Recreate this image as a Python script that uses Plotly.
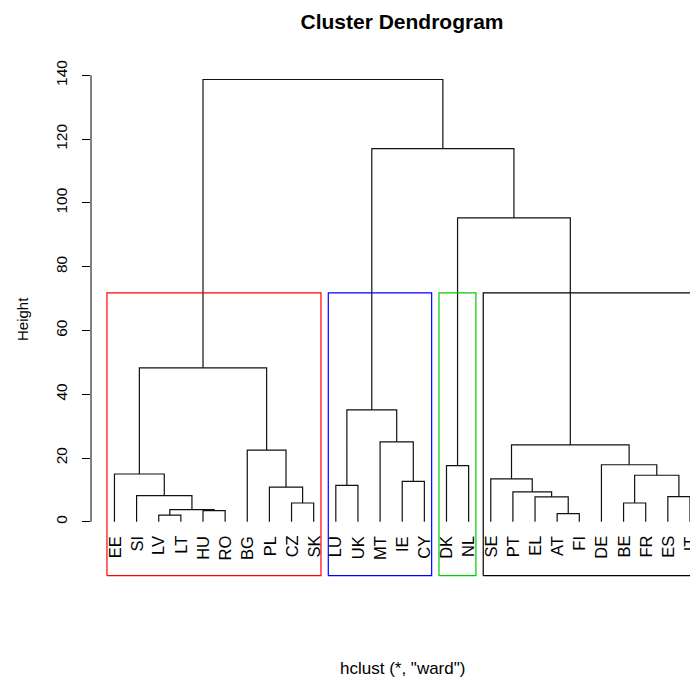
import plotly.graph_objects as go

# ---------------- data ----------------
labels = ["EE", "SI", "LV", "LT", "HU", "RO", "BG", "PL", "CZ", "SK",
          "LU", "UK", "MT", "IE", "CY", "DK", "NL",
          "SE", "PT", "EL", "AT", "FI", "DE", "BE", "FR", "ES", "IT"]

# R-style hclust merge table: negative = leaf (1-based), positive = earlier merge (1-based)
merge_left = [-3, -21, -5, 1, -9, -24, -20, -26, -2, -19, -8, -11, -14,
              -18, 6, -1, -16, -23, -7, 14, -13, 12, 16, 17, 22, 23]
merge_right = [-4, -22, -6, 3, -10, -25, 2, -27, 4, 7, 5, -12, -15,
               10, 8, 9, -17, 15, 11, 18, 13, 21, 19, 20, 24, 25]
merge_height = [2.1, 2.6, 3.5, 3.8, 5.9, 5.9, 7.8, 7.9, 8.2, 9.4, 10.9, 11.4, 12.7,
                13.5, 14.6, 15.0, 17.6, 17.9, 22.5, 24.1, 25.1, 35.1, 48.3, 95.3, 117.0, 138.7]

# rect.hclust(k = 4)
cluster_sizes = [10, 5, 2, 10]
cluster_colors = ["#FF0000", "#0000FF", "#00CD00", "#000000"]

y_ticks = [0, 20, 40, 60, 80, 100, 120, 140]

# ---------------- layout helpers ----------------
FONT = "Arial, Liberation Sans, sans-serif"
W, H = 690, 679
ML, MR, MT, MB = 91, 0, 61, 102
X_RANGE = [-0.06, 27.001]
Y_RANGE = [-17.3, 144.5]
RECT_BOTTOM = -16.9

# node positions
node_x, node_h = [], []


def child_pos(c):
    if c < 0:
        return float(-c), 0.0
    return node_x[c - 1], node_h[c - 1]


seg_x, seg_y = [], []
for l, r, h in zip(merge_left, merge_right, merge_height):
    xl, hl = child_pos(l)
    xr, hr = child_pos(r)
    seg_x += [xl, xl, xr, xr, None]
    seg_y += [hl, h, h, hr, None]
    node_x.append((xl + xr) / 2)
    node_h.append(h)

fig = go.Figure()
fig.add_trace(go.Scatter(x=seg_x, y=seg_y, mode="lines",
                         line=dict(color="#111111", width=1.2),
                         hoverinfo="skip", showlegend=False))

# cluster rectangles
hs = sorted(merge_height, reverse=True)
k = len(cluster_sizes)
rect_top = (hs[k - 2] + hs[k - 1]) / 2
start = 0
for size, col in zip(cluster_sizes, cluster_colors):
    x0 = start + 0.66
    x1 = start + size + 0.33
    fig.add_trace(go.Scatter(x=[x0, x1, x1, x0, x0],
                             y=[RECT_BOTTOM, RECT_BOTTOM, rect_top, rect_top, RECT_BOTTOM],
                             mode="lines", line=dict(color=col, width=1.2),
                             hoverinfo="skip", showlegend=False))
    start += size

# leaf labels
for i, lab in enumerate(labels):
    fig.add_annotation(x=i + 1, y=0, xref="x", yref="y", text=lab,
                       textangle=-90, showarrow=False, xanchor="center",
                       yanchor="top", yshift=-13, borderpad=0,
                       font=dict(family=FONT, size=16.5, color="black"))

# y axis line (only from first to last tick, like R)
fig.add_shape(type="line", xref="paper", yref="y", x0=0, x1=0,
              y0=y_ticks[0], y1=y_ticks[-1], line=dict(color="black", width=1))

# axis title and sub title
fig.add_annotation(xref="paper", yref="paper", x=0, y=0.5, xshift=-69,
                   text="Height", textangle=-90, showarrow=False,
                   xanchor="center", yanchor="middle",
                   font=dict(family=FONT, size=15, color="black"))
fig.add_annotation(xref="paper", yref="paper", x=0, y=0, xshift=311, yshift=-91,
                   text='hclust (*, "ward")', showarrow=False,
                   xanchor="center", yanchor="middle",
                   font=dict(family=FONT, size=17, color="black"))

fig.update_layout(
    width=W, height=H, autosize=False,
    margin=dict(l=ML, r=MR, t=MT, b=MB, pad=0),
    paper_bgcolor="white", plot_bgcolor="white",
    title=dict(text="<b>Cluster Dendrogram</b>", x=402 / W, xanchor="center",
               xref="container", y=1 - 22 / H, yanchor="middle", yref="container",
               font=dict(family=FONT, size=21, color="black")),
    xaxis=dict(range=X_RANGE, visible=False, showgrid=False, zeroline=False),
    yaxis=dict(range=Y_RANGE, tickvals=y_ticks, ticktext=[str(v) for v in y_ticks],
               tickangle=-90, ticks="outside", ticklen=8, tickwidth=1,
               tickcolor="black", showline=False, showgrid=False, zeroline=False,
               ticklabelstandoff=9,
               tickfont=dict(family=FONT, size=15.5, color="black")),
    showlegend=False,
)

fig.write_html("out.html",
               config={"displayModeBar": False},
               post_script="document.body.style.margin='0px';document.body.style.overflow='hidden';")
